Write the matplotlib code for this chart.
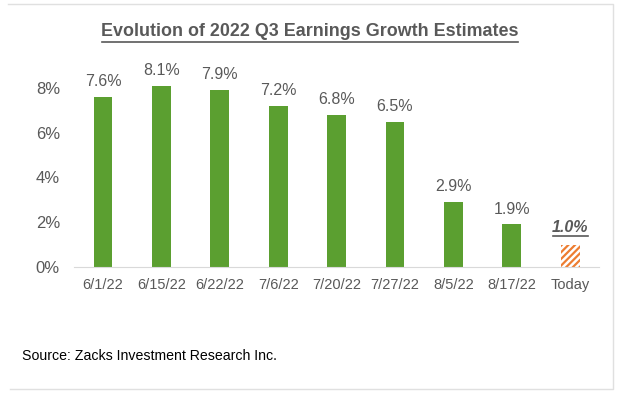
import matplotlib.pyplot as plt

dates = ['6/1/22', '6/15/22', '6/22/22', '7/6/22', '7/20/22', '7/27/22', '8/5/22', '8/17/22', 'Today']
growth = [7.6, 8.1, 7.9, 7.2, 6.8, 6.5, 2.9, 1.9, 1.0]
yticks = [0, 2, 4, 6, 8]

green = '#5B9F30'
orange = '#ED7D31'
gray = '#595959'

plt.rcParams['font.family'] = ['Liberation Sans', 'DejaVu Sans']
plt.rcParams['hatch.linewidth'] = 1.6

fig = plt.figure(figsize=(6.2, 3.96), dpi=100)
ax = fig.add_axes([73.8 / 620, 129 / 396, 525.6 / 620, 212.6 / 396])

x = list(range(len(dates)))
# past estimates solid green, today's estimate hatched orange
ax.bar(x[:-1], growth[:-1], width=0.32, color=green)
ax.bar(x[-1], growth[-1], width=0.32, color='white', edgecolor=orange, hatch='/////', linewidth=0)

for i, v in enumerate(growth):
    if i < len(growth) - 1:
        ax.text(i, v + 0.35, f'{v:.1f}%', ha='center', va='bottom', fontsize=11.5, color=gray)
    else:
        ax.text(i, v + 0.45, f'{v:.1f}%', ha='center', va='bottom', fontsize=11.5,
                color=gray, fontweight='bold', fontstyle='italic')
        ax.plot([i - 0.3, i + 0.3], [v + 0.4, v + 0.4], color=gray, lw=1.2)

ax.set_xlim(-0.5, len(dates) - 0.5)
ax.set_ylim(0, 9.5)
ax.set_yticks(yticks)
ax.set_yticklabels([f'{t}%' for t in yticks])
ax.set_xticks(x)
ax.set_xticklabels(dates)
ax.tick_params(axis='both', length=0, colors=gray)
ax.tick_params(axis='y', pad=10, labelsize=12)
ax.tick_params(axis='x', pad=8, labelsize=10.5)
for s in ['top', 'right', 'left']:
    ax.spines[s].set_visible(False)
ax.spines['bottom'].set_color('#D9D9D9')

fig.text(0.5, 1 - 32 / 396, 'Evolution of 2022 Q3 Earnings Growth Estimates', ha='center', va='center',
         fontsize=12.9, fontweight='bold', color=gray)
fig.add_artist(plt.Line2D([102 / 620, 518 / 620], [1 - 42 / 396, 1 - 42 / 396], color=gray, lw=1.2))

fig.text(22 / 620, 1 - 356 / 396, 'Source: Zacks Investment Research Inc.', ha='left', va='center',
         fontsize=10.2, color='black')

# light frame on top, right and bottom
fx = [8 / 620, 613 / 620, 613 / 620, 10 / 620]
fy = [1 - 4 / 396, 1 - 4 / 396, 1 - 389 / 396, 1 - 389 / 396]
fig.add_artist(plt.Line2D(fx, fy, color='#E0E0E0', lw=1.0))

fig.savefig('out.png', dpi=100)
